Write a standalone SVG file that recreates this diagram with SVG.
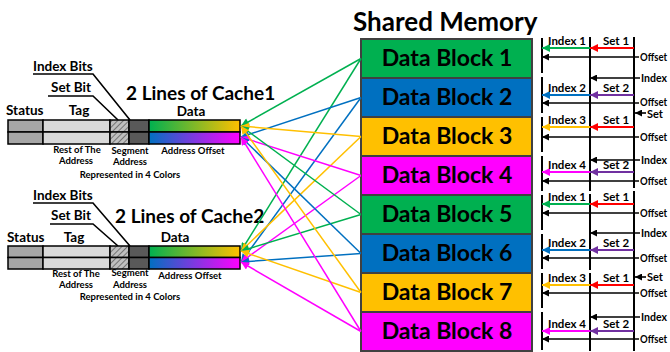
<svg xmlns="http://www.w3.org/2000/svg" width="670" height="352" viewBox="0 0 670 352">
<style>
text{font-family:Lato,"Open Sans","Liberation Sans",sans-serif;font-weight:bold;fill:#000}
.blk{stroke:#404040;stroke-width:2}
.blabel{font-size:23px;text-anchor:middle}
.lbl{font-size:13.5px}
.small{font-size:9.5px;text-anchor:middle}
.rt{font-size:11px}
.rtc{font-size:11.5px;text-anchor:middle}
.cell{stroke:#000;stroke-width:1.5}
.lead{stroke:#000;stroke-width:1.6;fill:none}
.con{fill:none;stroke-width:1.5}
.vl{stroke:#000;stroke-width:2}
.ra{stroke-width:2}
.ba{stroke:#000;stroke-width:1.6}
</style>
<defs>
<pattern id="hatch" width="4" height="4" patternUnits="userSpaceOnUse" patternTransform="rotate(45)">
<rect width="4" height="4" fill="#bfbfbf"/>
<line x1="0" y1="0" x2="0" y2="4" stroke="#595959" stroke-width="1.5"/>
</pattern>
<linearGradient id="gy" x1="0" x2="1" y1="0" y2="0"><stop offset="0" stop-color="#00B050"/><stop offset="1" stop-color="#FFC000"/></linearGradient>
<linearGradient id="bm" x1="0" x2="1" y1="0" y2="0"><stop offset="0" stop-color="#0070C0"/><stop offset="1" stop-color="#FF00FF"/></linearGradient>
<marker id="mG" viewBox="0 0 10 10" refX="10" refY="5" markerWidth="9" markerHeight="8" markerUnits="userSpaceOnUse" orient="auto"><path d="M0,0L10,5L0,10z" fill="#00B050"/></marker>
<marker id="mB" viewBox="0 0 10 10" refX="10" refY="5" markerWidth="9" markerHeight="8" markerUnits="userSpaceOnUse" orient="auto"><path d="M0,0L10,5L0,10z" fill="#0070C0"/></marker>
<marker id="mY" viewBox="0 0 10 10" refX="10" refY="5" markerWidth="9" markerHeight="8" markerUnits="userSpaceOnUse" orient="auto"><path d="M0,0L10,5L0,10z" fill="#FFC000"/></marker>
<marker id="mM" viewBox="0 0 10 10" refX="10" refY="5" markerWidth="9" markerHeight="8" markerUnits="userSpaceOnUse" orient="auto"><path d="M0,0L10,5L0,10z" fill="#FF00FF"/></marker>
<marker id="mR" viewBox="0 0 10 10" refX="10" refY="5" markerWidth="9" markerHeight="8" markerUnits="userSpaceOnUse" orient="auto"><path d="M0,0L10,5L0,10z" fill="#FF0000"/></marker>
<marker id="mP" viewBox="0 0 10 10" refX="10" refY="5" markerWidth="9" markerHeight="8" markerUnits="userSpaceOnUse" orient="auto"><path d="M0,0L10,5L0,10z" fill="#7030A0"/></marker>
<marker id="mK" viewBox="0 0 10 10" refX="10" refY="5" markerWidth="9" markerHeight="7" markerUnits="userSpaceOnUse" orient="auto"><path d="M0,0L10,5L0,10z" fill="#000"/></marker>
</defs>
<rect width="670" height="352" fill="#fff"/>

<text x="353" y="31" style="font-size:26px">Shared Memory</text>

<g id="block1"><rect class="blk" x="361" y="39" width="171" height="39" fill="#00B050"/><text class="blabel" x="447" y="66">Data Block 1</text></g>
<g id="block2"><rect class="blk" x="361" y="78" width="171" height="39" fill="#0070C0"/><text class="blabel" x="447" y="105">Data Block 2</text></g>
<g id="block3"><rect class="blk" x="361" y="117" width="171" height="39" fill="#FFC000"/><text class="blabel" x="447" y="144">Data Block 3</text></g>
<g id="block4"><rect class="blk" x="361" y="156" width="171" height="39" fill="#FF00FF"/><text class="blabel" x="447" y="183">Data Block 4</text></g>
<g id="block5"><rect class="blk" x="361" y="195" width="171" height="39" fill="#00B050"/><text class="blabel" x="447" y="222">Data Block 5</text></g>
<g id="block6"><rect class="blk" x="361" y="234" width="171" height="39" fill="#0070C0"/><text class="blabel" x="447" y="261">Data Block 6</text></g>
<g id="block7"><rect class="blk" x="361" y="273" width="171" height="39" fill="#FFC000"/><text class="blabel" x="447" y="300">Data Block 7</text></g>
<g id="block8"><rect class="blk" x="361" y="312" width="171" height="39" fill="#FF00FF"/><text class="blabel" x="447" y="339">Data Block 8</text></g>

<g id="cache1">
<text class="lbl" x="33" y="71">Index Bits</text>
<text class="lbl" x="51" y="92">Set Bit</text>
<polyline class="lead" points="33,74 93,74 130,120"/>
<polyline class="lead" points="48,96 93,96 118,120"/>
<text x="126" y="100" style="font-size:19px">2 Lines of Cache1</text>
<text class="lbl" x="6" y="115">Status</text>
<text class="lbl" x="79" y="115" text-anchor="middle">Tag</text>
<text class="lbl" x="191" y="116" text-anchor="middle">Data</text>
<rect class="cell" x="8" y="120" width="35" height="12" fill="#a6a6a6"/>
<rect class="cell" x="43" y="120" width="67" height="12" fill="#d9d9d9"/>
<rect class="cell" x="110" y="120" width="19" height="12" fill="url(#hatch)"/>
<rect class="cell" x="129" y="120" width="20" height="12" fill="#595959"/>
<rect class="cell" x="149" y="120" width="91" height="12" fill="url(#gy)"/>
<rect class="cell" x="8" y="132" width="35" height="12" fill="#a6a6a6"/>
<rect class="cell" x="43" y="132" width="67" height="12" fill="#d9d9d9"/>
<rect class="cell" x="110" y="132" width="19" height="12" fill="url(#hatch)"/>
<rect class="cell" x="129" y="132" width="20" height="12" fill="#595959"/>
<rect class="cell" x="149" y="132" width="91" height="12" fill="url(#bm)"/>
<text class="small" x="77" y="153">Rest of The</text>
<text class="small" x="76" y="164">Address</text>
<text class="small" x="130" y="154">Segment</text>
<text class="small" x="130" y="165">Address</text>
<text class="small" x="193" y="154">Address Offset</text>
<text class="small" x="130" y="178">Represented in 4 Colors</text>
</g>

<g id="cache2">
<text class="lbl" x="33" y="200">Index Bits</text>
<text class="lbl" x="51" y="220">Set Bit</text>
<polyline class="lead" points="33,203 93,203 130,246"/>
<polyline class="lead" points="50,224 93,224 118,246"/>
<text x="115" y="223" style="font-size:19px">2 Lines of Cache2</text>
<text class="lbl" x="7" y="242">Status</text>
<text class="lbl" x="74" y="242" text-anchor="middle">Tag</text>
<text class="lbl" x="175" y="242" text-anchor="middle">Data</text>
<rect class="cell" x="8" y="246" width="35" height="11.5" fill="#a6a6a6"/>
<rect class="cell" x="43" y="246" width="67" height="11.5" fill="#d9d9d9"/>
<rect class="cell" x="110" y="246" width="19" height="11.5" fill="url(#hatch)"/>
<rect class="cell" x="129" y="246" width="20" height="11.5" fill="#595959"/>
<rect class="cell" x="149" y="246" width="91" height="11.5" fill="url(#gy)"/>
<rect class="cell" x="8" y="257.5" width="35" height="11.5" fill="#a6a6a6"/>
<rect class="cell" x="43" y="257.5" width="67" height="11.5" fill="#d9d9d9"/>
<rect class="cell" x="110" y="257.5" width="19" height="11.5" fill="url(#hatch)"/>
<rect class="cell" x="129" y="257.5" width="20" height="11.5" fill="#595959"/>
<rect class="cell" x="149" y="257.5" width="91" height="11.5" fill="url(#bm)"/>
<text class="small" x="76" y="277">Rest of The</text>
<text class="small" x="76" y="288">Address</text>
<text class="small" x="130" y="276">Segment</text>
<text class="small" x="130" y="288">Address</text>
<text class="small" x="190" y="279">Address Offset</text>
<text class="small" x="130" y="300">Represented in 4 Colors</text>
</g>

<g id="connectors">
<line class="con" stroke="#00B050" x1="361" y1="58.5" x2="241" y2="126" marker-end="url(#mG)"/>
<line class="con" stroke="#00B050" x1="361" y1="58.5" x2="241" y2="251" marker-end="url(#mG)"/>
<line class="con" stroke="#0070C0" x1="361" y1="97.5" x2="241" y2="137" marker-end="url(#mB)"/>
<line class="con" stroke="#0070C0" x1="361" y1="97.5" x2="241" y2="262" marker-end="url(#mB)"/>
<line class="con" stroke="#FFC000" x1="361" y1="136.5" x2="241" y2="126" marker-end="url(#mY)"/>
<line class="con" stroke="#FFC000" x1="361" y1="136.5" x2="241" y2="251" marker-end="url(#mY)"/>
<line class="con" stroke="#FF00FF" x1="361" y1="175.5" x2="241" y2="137" marker-end="url(#mM)"/>
<line class="con" stroke="#FF00FF" x1="361" y1="175.5" x2="241" y2="262" marker-end="url(#mM)"/>
<line class="con" stroke="#00B050" x1="361" y1="214.5" x2="241" y2="126" marker-end="url(#mG)"/>
<line class="con" stroke="#00B050" x1="361" y1="214.5" x2="241" y2="251" marker-end="url(#mG)"/>
<line class="con" stroke="#0070C0" x1="361" y1="253.5" x2="241" y2="137" marker-end="url(#mB)"/>
<line class="con" stroke="#0070C0" x1="361" y1="253.5" x2="241" y2="262" marker-end="url(#mB)"/>
<line class="con" stroke="#FFC000" x1="361" y1="292.5" x2="241" y2="126" marker-end="url(#mY)"/>
<line class="con" stroke="#FFC000" x1="361" y1="292.5" x2="241" y2="251" marker-end="url(#mY)"/>
<line class="con" stroke="#FF00FF" x1="361" y1="331.5" x2="241" y2="137" marker-end="url(#mM)"/>
<line class="con" stroke="#FF00FF" x1="361" y1="331.5" x2="241" y2="262" marker-end="url(#mM)"/>
</g>

<g id="address-map">
<line class="vl" x1="542" y1="38" x2="542" y2="73"/>
<line class="vl" x1="542" y1="77" x2="542" y2="113"/>
<line class="vl" x1="542" y1="117" x2="542" y2="152"/>
<line class="vl" x1="542" y1="156" x2="542" y2="191"/>
<line class="vl" x1="542" y1="195" x2="542" y2="230"/>
<line class="vl" x1="542" y1="234" x2="542" y2="269"/>
<line class="vl" x1="542" y1="273" x2="542" y2="308"/>
<line class="vl" x1="542" y1="312" x2="542" y2="350"/>
<line class="vl" x1="590" y1="37" x2="590" y2="191"/>
<line class="vl" x1="590" y1="194" x2="590" y2="270"/>
<line class="vl" x1="590" y1="273" x2="590" y2="351"/>
<line class="vl" x1="634" y1="37" x2="634" y2="188"/>
<line class="vl" x1="634" y1="191" x2="634" y2="351"/>

<line class="ra" stroke="#00B050" x1="590" y1="48" x2="542" y2="48" marker-end="url(#mG)"/>
<line class="ra" stroke="#FF0000" x1="634" y1="48" x2="590" y2="48" marker-end="url(#mR)"/>
<text class="rtc" x="567" y="45">Index 1</text><text class="rtc" x="616" y="45">Set 1</text>
<line class="ba" x1="639" y1="57" x2="542" y2="57" marker-end="url(#mK)"/><text class="rt" x="640" y="61" textLength="27" lengthAdjust="spacingAndGlyphs">Offset</text>
<line class="ba" x1="640" y1="78" x2="590" y2="78" marker-end="url(#mK)"/><text class="rt" x="641" y="82" textLength="26" lengthAdjust="spacingAndGlyphs">Index</text>

<line class="ra" stroke="#0070C0" x1="590" y1="95" x2="542" y2="95" marker-end="url(#mB)"/>
<line class="ra" stroke="#7030A0" x1="634" y1="95" x2="590" y2="95" marker-end="url(#mP)"/>
<text class="rtc" x="567" y="92">Index 2</text><text class="rtc" x="616" y="92">Set 2</text>
<line class="ba" x1="639" y1="103" x2="542" y2="103" marker-end="url(#mK)"/><text class="rt" x="640" y="106" textLength="27" lengthAdjust="spacingAndGlyphs">Offset</text>
<line class="ba" x1="646" y1="113" x2="635" y2="113" marker-end="url(#mK)"/><text class="rt" x="647" y="118">Set</text>

<line class="ra" stroke="#FFC000" x1="590" y1="127" x2="542" y2="127" marker-end="url(#mY)"/>
<line class="ra" stroke="#FF0000" x1="634" y1="127" x2="590" y2="127" marker-end="url(#mR)"/>
<text class="rtc" x="567" y="124">Index 3</text><text class="rtc" x="616" y="124">Set 1</text>
<line class="ba" x1="639" y1="137" x2="542" y2="137" marker-end="url(#mK)"/><text class="rt" x="640" y="141" textLength="27" lengthAdjust="spacingAndGlyphs">Offset</text>
<line class="ba" x1="640" y1="160" x2="590" y2="160" marker-end="url(#mK)"/><text class="rt" x="641" y="164" textLength="26" lengthAdjust="spacingAndGlyphs">Index</text>

<line class="ra" stroke="#FF00FF" x1="590" y1="172" x2="542" y2="172" marker-end="url(#mM)"/>
<line class="ra" stroke="#7030A0" x1="634" y1="172" x2="590" y2="172" marker-end="url(#mP)"/>
<text class="rtc" x="567" y="169">Index 4</text><text class="rtc" x="616" y="169">Set 2</text>
<line class="ba" x1="639" y1="181" x2="542" y2="181" marker-end="url(#mK)"/><text class="rt" x="640" y="185" textLength="27" lengthAdjust="spacingAndGlyphs">Offset</text>

<line class="ra" stroke="#00B050" x1="590" y1="204" x2="542" y2="204" marker-end="url(#mG)"/>
<line class="ra" stroke="#FF0000" x1="634" y1="204" x2="590" y2="204" marker-end="url(#mR)"/>
<text class="rtc" x="567" y="201">Index 1</text><text class="rtc" x="616" y="201">Set 1</text>
<line class="ba" x1="639" y1="213" x2="542" y2="213" marker-end="url(#mK)"/><text class="rt" x="640" y="217" textLength="27" lengthAdjust="spacingAndGlyphs">Offset</text>
<line class="ba" x1="640" y1="233" x2="590" y2="233" marker-end="url(#mK)"/><text class="rt" x="641" y="237" textLength="26" lengthAdjust="spacingAndGlyphs">Index</text>

<line class="ra" stroke="#0070C0" x1="590" y1="250" x2="542" y2="250" marker-end="url(#mB)"/>
<line class="ra" stroke="#7030A0" x1="634" y1="250" x2="590" y2="250" marker-end="url(#mP)"/>
<text class="rtc" x="567" y="247">Index 2</text><text class="rtc" x="616" y="247">Set 2</text>
<line class="ba" x1="639" y1="258" x2="542" y2="258" marker-end="url(#mK)"/><text class="rt" x="640" y="262" textLength="27" lengthAdjust="spacingAndGlyphs">Offset</text>
<line class="ba" x1="646" y1="277" x2="635" y2="277" marker-end="url(#mK)"/><text class="rt" x="647" y="281">Set</text>

<line class="ra" stroke="#FFC000" x1="590" y1="285" x2="542" y2="285" marker-end="url(#mY)"/>
<line class="ra" stroke="#FF0000" x1="634" y1="285" x2="590" y2="285" marker-end="url(#mR)"/>
<text class="rtc" x="567" y="282">Index 3</text><text class="rtc" x="616" y="282">Set 1</text>
<line class="ba" x1="639" y1="293" x2="542" y2="293" marker-end="url(#mK)"/><text class="rt" x="640" y="297" textLength="27" lengthAdjust="spacingAndGlyphs">Offset</text>
<line class="ba" x1="640" y1="317" x2="590" y2="317" marker-end="url(#mK)"/><text class="rt" x="641" y="321" textLength="26" lengthAdjust="spacingAndGlyphs">Index</text>

<line class="ra" stroke="#FF00FF" x1="590" y1="331" x2="542" y2="331" marker-end="url(#mM)"/>
<line class="ra" stroke="#7030A0" x1="634" y1="331" x2="590" y2="331" marker-end="url(#mP)"/>
<text class="rtc" x="567" y="328">Index 4</text><text class="rtc" x="616" y="328">Set 2</text>
<line class="ba" x1="639" y1="339" x2="542" y2="339" marker-end="url(#mK)"/><text class="rt" x="640" y="343" textLength="27" lengthAdjust="spacingAndGlyphs">Offset</text>
</g>
</svg>
